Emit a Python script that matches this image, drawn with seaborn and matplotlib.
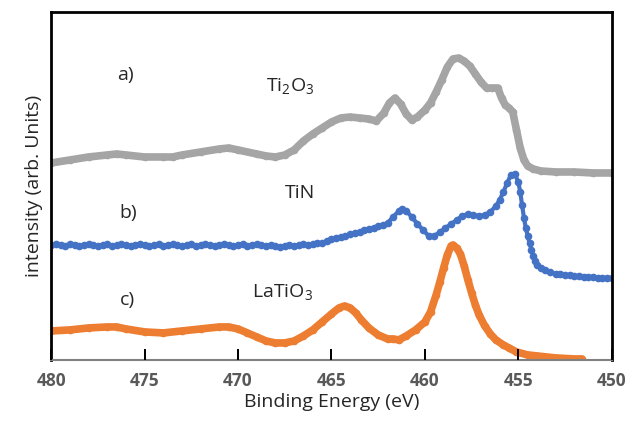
import matplotlib
matplotlib.use("Agg")
import matplotlib.pyplot as plt
import seaborn as sns
import pandas as pd

# ---- data (binding energy in eV, intensity in arb. units) ----
ti2o3_energy = [480.0, 479.0, 478.0, 477.0, 476.5, 476.0, 475.0, 474.0, 473.5, 473.0,
                472.0, 471.0, 470.5, 470.0, 469.0, 468.5, 468.0, 467.5, 467.0, 466.5,
                466.0, 465.5, 465.0, 464.5, 464.0, 463.5, 463.0, 462.6, 462.2, 461.9,
                461.6, 461.3, 461.0, 460.7, 460.4, 460.0, 459.7, 459.4, 459.1, 458.8,
                458.5, 458.2, 457.9, 457.6, 457.3, 457.0, 456.7, 456.4, 456.1, 455.9,
                455.7, 455.5, 455.3, 455.1, 454.9, 454.7, 454.5, 454.2, 453.8, 453.0,
                452.0, 451.0, 450.0]
ti2o3_intensity = [197, 200, 203, 205, 206, 205, 203, 203, 203, 205,
                   208, 211, 212, 210, 206, 204, 203, 205, 210, 219,
                   226, 232, 238, 242, 243, 242, 241, 239, 247, 257,
                   262, 256, 246, 240, 243, 250, 257, 268, 280, 293,
                   301, 302, 299, 294, 286, 278, 272, 272, 272, 262,
                   255, 252, 248, 230, 212, 200, 194, 191, 189, 188,
                   188, 187, 187]

tin_energy = [480.0, 479.75, 479.5, 479.25, 479.0, 478.75, 478.5, 478.25, 478.0, 477.75,
              477.5, 477.25, 477.0, 476.75, 476.5, 476.25, 476.0, 475.75, 475.5, 475.25,
              475.0, 474.75, 474.5, 474.25, 474.0, 473.75, 473.5, 473.25, 473.0, 472.75,
              472.5, 472.25, 472.0, 471.75, 471.5, 471.25, 471.0, 470.75, 470.5, 470.25,
              470.0, 469.75, 469.5, 469.25, 469.0, 468.75, 468.5, 468.25, 468.0, 467.75,
              467.5, 467.25, 467.0, 466.75, 466.5, 466.25, 466.0, 465.75, 465.5, 465.25,
              465.0, 464.75, 464.5, 464.25, 464.0, 463.75, 463.5, 463.25, 463.0, 462.75,
              462.5, 462.25, 462.0, 461.7, 461.4, 461.2,
              461.0, 460.7, 460.4, 460.1, 459.8, 459.5, 459.2, 458.9, 458.6, 458.3,
              458.0, 457.7, 457.4, 457.1, 456.8, 456.5, 456.2, 456.0, 455.8, 455.6,
              455.4, 455.2, 455.0, 454.9, 454.8, 454.7, 454.6, 454.5, 454.4, 454.3,
              454.2, 454.1, 454.0, 453.8, 453.6, 453.3, 453.0, 452.75, 452.5, 452.25,
              452.0, 451.75, 451.5, 451.25, 451.0, 450.75, 450.5, 450.25, 450.0]
tin_intensity = [115, 116, 115, 114, 116, 115, 114, 115, 116, 115,
                 114, 115, 116, 114, 115, 116, 115, 114, 115, 116,
                 115, 114, 115, 116, 114, 115, 116, 115, 114, 115,
                 116, 114, 115, 116, 115, 114, 115, 116, 115, 114,
                 115, 116, 114, 115, 116, 115, 114, 115, 114, 113,
                 114, 115, 114, 115, 116, 115, 116, 117, 117, 119,
                 121, 122, 123, 124, 126, 127, 128, 130, 131, 132,
                 134, 135, 137, 143, 149, 151,
                 149, 143, 136, 130, 124, 124, 128, 132, 136, 140,
                 144, 146, 145, 144, 145, 148, 154, 160, 168, 177,
                 185, 186, 178, 168, 155, 142, 132, 124, 117, 110,
                 104, 99, 95, 92, 90, 88, 86, 86, 85, 85,
                 84, 84, 83, 83, 83, 82, 82, 82, 82]

latio3_energy = [480.0, 479.0, 478.0, 477.0, 476.5, 476.0, 475.0, 474.0, 473.0, 472.0,
                 471.0, 470.5, 470.0, 469.5, 469.0, 468.5, 468.0, 467.5, 467.0, 466.5,
                 466.0, 465.5, 465.0, 464.6, 464.3, 464.0, 463.7, 463.4, 463.0, 462.5,
                 462.0, 461.7, 461.4, 461.0, 460.5, 460.0, 459.7, 459.4, 459.2, 459.0,
                 458.8, 458.6, 458.5, 458.3, 458.1, 457.9, 457.7, 457.5, 457.3, 457.1,
                 456.8, 456.5, 456.2, 455.8, 455.5, 455.1, 454.5, 454.0, 453.0, 452.0,
                 451.6]
latio3_intensity = [29, 30, 32, 33, 33, 31, 28, 27, 29, 31,
                    33, 33, 31, 27, 23, 19, 17, 17, 19, 24,
                    30, 38, 46, 52, 54, 52, 47, 40, 32, 25,
                    21, 21, 20, 24, 30, 38, 48, 65, 78, 92,
                    105, 114, 115, 112, 106, 94, 80, 67, 55, 45,
                    34, 26, 20, 15, 12, 8, 5, 4, 2, 1,
                    1]

series_labels = ["Ti$_\\mathregular{2}$O$_\\mathregular{3}$", "TiN", "LaTiO$_\\mathregular{3}$"]
panel_labels = ["a)", "b)", "c)"]
x_ticks = [480, 475, 470, 465, 460, 455, 450]

df_ti2o3 = pd.DataFrame({"energy": ti2o3_energy, "intensity": ti2o3_intensity})
df_tin = pd.DataFrame({"energy": tin_energy, "intensity": tin_intensity})
df_latio3 = pd.DataFrame({"energy": latio3_energy, "intensity": latio3_intensity})

sns.set_style("ticks")
plt.rcParams["font.family"] = ["Open Sans", "DejaVu Sans"]

fig = plt.figure(figsize=(6.32, 4.29), dpi=100)
ax = fig.add_axes([0.081, 0.161, 0.887, 0.811])

gray = "#A5A5A5"
blue = "#4472C4"
orange = "#ED7D31"

sns.lineplot(data=df_ti2o3, x="energy", y="intensity", ax=ax, color=gray,
             linewidth=5.5, marker="o", markersize=5.5, markeredgewidth=0,
             sort=False, estimator=None)
sns.lineplot(data=df_tin, x="energy", y="intensity", ax=ax, color=blue,
             linewidth=3, marker="o", markersize=5.5, markeredgewidth=0,
             sort=False, estimator=None)
sns.lineplot(data=df_latio3, x="energy", y="intensity", ax=ax, color=orange,
             linewidth=5.5, marker="o", markersize=5.5, markeredgewidth=0,
             sort=False, estimator=None)

ax.set_xlim(480, 450)
ax.set_ylim(0, 348)
ax.set_xticks(x_ticks)
ax.set_xticklabels([str(t) for t in x_ticks])
ax.set_yticks([])

ax.tick_params(axis="x", which="major", direction="in", length=8, width=1.3,
               color="black", pad=9, labelsize=12.5, labelcolor="#595959",
               bottom=True, top=False)
for lab in ax.get_xticklabels():
    lab.set_fontweight("bold")

for side in ["left", "top", "right"]:
    ax.spines[side].set_color("black")
    ax.spines[side].set_linewidth(2)
ax.spines["bottom"].set_color("#808080")
ax.spines["bottom"].set_linewidth(1.5)

ax.set_xlabel("Binding Energy (eV)", fontsize=14, color="#262626", labelpad=2)
ax.set_ylabel("intensity (arb. Units)", fontsize=14, color="#262626", labelpad=6)

txt = dict(fontsize=14, color="#262626", ha="center", va="center")
ax.text(476.0, 285, panel_labels[0], **txt)
ax.text(467.2, 273, series_labels[0], **txt)
ax.text(475.9, 147, panel_labels[1], **txt)
ax.text(466.7, 167, series_labels[1], **txt)
ax.text(475.9, 60, panel_labels[2], **txt)
ax.text(467.6, 67, series_labels[2], **txt)

# inward tick marks along the bottom axis at the tick positions (drawn last, on top)
ax.vlines(x_ticks, 0, 0.03, transform=ax.get_xaxis_transform(),
          colors="#000000", linewidth=1.4, zorder=10, clip_on=False)

fig.savefig("out.png", dpi=100)
